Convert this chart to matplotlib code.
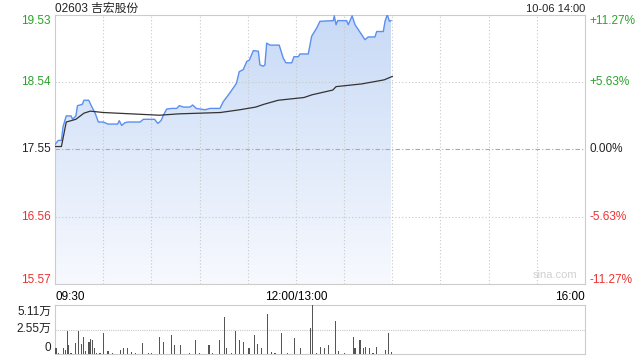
import numpy as np
import matplotlib
matplotlib.use("Agg")
import matplotlib.pyplot as plt
from matplotlib.colors import LinearSegmentedColormap

plt.rcParams['font.family'] = ['Liberation Sans', 'Noto Sans CJK SC', 'DejaVu Sans']

# Dados (minutos desde 09:30, pausa de almoco removida)
titulo = "02603 吉宏股份"
data_hora = "10-06 14:00"
preco_base = 17.55
preco_ticks = [19.53, 18.54, 17.55, 16.56, 15.57]
pct_ticks = ["+11.27%", "+5.63%", "0.00%", "-5.63%", "-11.27%"]

preco_min = [0, 2, 4, 5, 7, 10, 11, 13, 14, 17,
             18, 21, 23, 25, 27, 30, 33, 39, 40, 41.5,
             43.5, 45.6, 53, 55, 62, 64, 66, 67.5, 69.5, 72.6,
             75.8, 77.4, 80, 84, 85.7, 88, 93.4, 96.5, 102.7, 104.8,
             108, 111, 113, 114.7, 117.2, 119.4, 121, 123.5, 126.6, 127.6,
             129.7, 130.7, 131.8, 133.9, 139.6, 142.1, 143.8, 147.4, 148.8, 151.5,
             152.5, 157.7, 159.8, 162.9, 165, 173.3, 173.9, 175, 176, 181.6,
             182.6, 185, 186.8, 188.8, 193, 195, 199.2, 200.3, 204.4, 205.5,
             206.9, 208.2, 209.2]
preco = [17.62, 17.68, 17.68, 17.88, 18.04, 18.04, 17.99, 18.04, 18.19, 18.21,
         18.27, 18.27, 18.17, 18.08, 17.95, 17.95, 17.92, 17.92, 17.97, 17.90,
         17.94, 17.95, 17.95, 17.99, 17.99, 17.93, 17.97, 18.05, 18.14, 18.15,
         18.15, 18.19, 18.17, 18.17, 18.20, 18.15, 18.13, 18.15, 18.15, 18.25,
         18.35, 18.45, 18.52, 18.69, 18.72, 18.84, 18.86, 19.00, 18.99, 18.79,
         18.77, 18.79, 19.11, 19.08, 19.08, 18.89, 18.82, 18.82, 18.91, 18.91,
         18.95, 18.95, 19.21, 19.33, 19.43, 19.44, 19.51, 19.38, 19.44, 19.44,
         19.38, 19.51, 19.38, 19.31, 19.16, 19.20, 19.20, 19.28, 19.28, 19.43,
         19.53, 19.43, 19.44]

media_min = [0, 4, 7, 13, 18, 22, 30, 65, 77, 103,
             115, 125, 130, 139, 155, 160, 173, 175, 191, 205,
             210]
media = [17.59, 17.59, 17.95, 17.99, 18.08, 18.11, 18.09, 18.05, 18.07, 18.09,
         18.13, 18.17, 18.21, 18.27, 18.31, 18.35, 18.42, 18.47, 18.51, 18.57,
         18.62]

vol_min = [0.6, 2, 5.1, 6.4, 7.7, 8.5, 10, 12.8, 14.5, 16.6,
           17.9, 19.1, 21.2, 22.2, 23.4, 24.7, 26, 28, 30, 33,
           36, 40.7, 42.5, 45, 47.6, 50, 54.7, 58, 60, 64.9,
           67.4, 72.5, 74.5, 78, 84, 87.7, 90, 95.9, 98, 102.5,
           105.5, 106.8, 110, 112.6, 114.9, 117.2, 120.8, 124.1, 125.9, 128.4,
           132.2, 134.8, 137, 141.1, 145, 149.3, 153, 158.9, 160.4, 163,
           165.2, 167.8, 170.3, 174.9, 176.7, 180, 185.6, 186.8, 189.9, 191.9,
           193.2, 195.7, 198, 200, 205.6, 207.7, 209.7]
volume = [0.58, 0.12, 0.58, 0.45, 2.45, 0.90, 0.12, 1.10, 2.45, 1.00,
          1.80, 0.30, 1.30, 1.60, 1.45, 0.60, 0.12, 0.12, 2.14, 0.30,
          0.15, 0.40, 0.60, 0.60, 0.25, 0.12, 1.10, 0.15, 0.12, 1.73,
          1.30, 2.00, 0.90, 0.90, 0.15, 1.43, 0.15, 0.90, 0.12, 1.50,
          3.87, 0.60, 0.15, 2.45, 1.50, 1.20, 0.60, 2.00, 1.00, 0.60,
          4.18, 0.20, 0.15, 2.14, 0.15, 1.63, 0.60, 2.72, 5.11, 0.15,
          0.70, 0.60, 0.90, 3.47, 0.30, 0.15, 1.80, 0.60, 1.50, 0.60,
          0.70, 0.60, 0.15, 0.70, 0.40, 2.24, 0.25]

# Grafico
verde = "#2aa22a"
vermelho = "#ee2f2f"
azul = "#5b8ff0"
cinza = "#cccccc"

fig = plt.figure(figsize=(6.4, 3.6), dpi=100)
ax = fig.add_axes([55 / 640, 1 - 284 / 360, 530 / 640, 269.5 / 360])
axv = fig.add_axes([55 / 640, 1 - 354 / 360, 530 / 640, 49 / 360])

ax.set_xlim(0, 330)
ax.set_ylim(15.57, 19.53)

# preenchimento em gradiente
grad = LinearSegmentedColormap.from_list("g", ["#f7f9fe", "#c8daf6"])
poly = ax.fill_between(preco_min, preco, 15.57, color="none")
img = ax.imshow(np.linspace(0, 1, 200).reshape(-1, 1), cmap=grad, aspect="auto",
                extent=[0, 330, 15.57, 19.53], origin="lower", zorder=1)
img.set_clip_path(poly.get_paths()[0], transform=ax.transData)

ax.plot(preco_min, preco, color=azul, lw=1.0, zorder=3)
ax.plot(media_min, media, color="#333333", lw=0.9, zorder=3)

for t in range(30, 330, 30):
    ax.axvline(t, color="#c8c8c8", lw=0.8, ls=(0, (1, 2)), zorder=2)
for p in [18.54, 16.56]:
    ax.axhline(p, color="#c8c8c8", lw=0.8, ls=(0, (1, 2)), zorder=2)
ax.axhline(preco_base, color="#aaaaaa", lw=0.8, ls=(0, (4, 2, 1, 2)), zorder=2)

ax.set_xticks([])
ax.set_yticks([])
for s in ax.spines.values():
    s.set_color(cinza)

cores = [verde, verde, "#222222", vermelho, vermelho]
ajuste = [-7, 0, 0, 0, 4]
for p, pct, c, a in zip(preco_ticks, pct_ticks, cores, ajuste):
    y = (p - 15.57) / (19.53 - 15.57) + a / 269.5
    ax.text(-0.008, y, f"{p:.2f}", transform=ax.transAxes, ha="right", va="center",
            color=c, fontsize=8.5)
    ax.text(1.008, y, pct, transform=ax.transAxes, ha="left", va="center",
            color=c, fontsize=8.5)

fig.text(55 / 640, 1 - 12 / 360, titulo, ha="left", va="baseline",
         fontsize=8.5, color="#222222")
fig.text(585 / 640, 1 - 12 / 360, data_hora, ha="right", va="baseline",
         fontsize=8, color="#222222")
ax.text(0.985, 0.015, "sina.com", transform=ax.transAxes, ha="right", va="bottom",
        fontsize=8, color="#d0d0d0")

ax.text(0, -0.025, "09:30", transform=ax.transAxes, ha="left", va="top", fontsize=8.5)
ax.text(150 / 330, -0.025, "12:00/13:00", transform=ax.transAxes, ha="center", va="top",
        fontsize=8.5)
ax.text(1, -0.025, "16:00", transform=ax.transAxes, ha="right", va="top", fontsize=8.5)

# volume
axv.set_xlim(0, 330)
axv.set_ylim(0, 5.11)
axv.bar(vol_min, volume, width=0.7, color="#555555", zorder=3)
axv.axhline(2.55, color="#c8c8c8", lw=0.8, ls=(0, (1, 1)), zorder=1)
axv.set_xticks([])
axv.set_yticks([])
for s in axv.spines.values():
    s.set_color(cinza)
axv.spines["top"].set_linestyle((0, (1, 1)))
for y_px, lbl in [(312, "5.11万"), (329, "2.55万"), (348, "0")]:
    fig.text(51 / 640, 1 - y_px / 360, lbl, ha="right", va="center",
             fontsize=8.5, color="#222222")

fig.savefig("out.png", dpi=100)
